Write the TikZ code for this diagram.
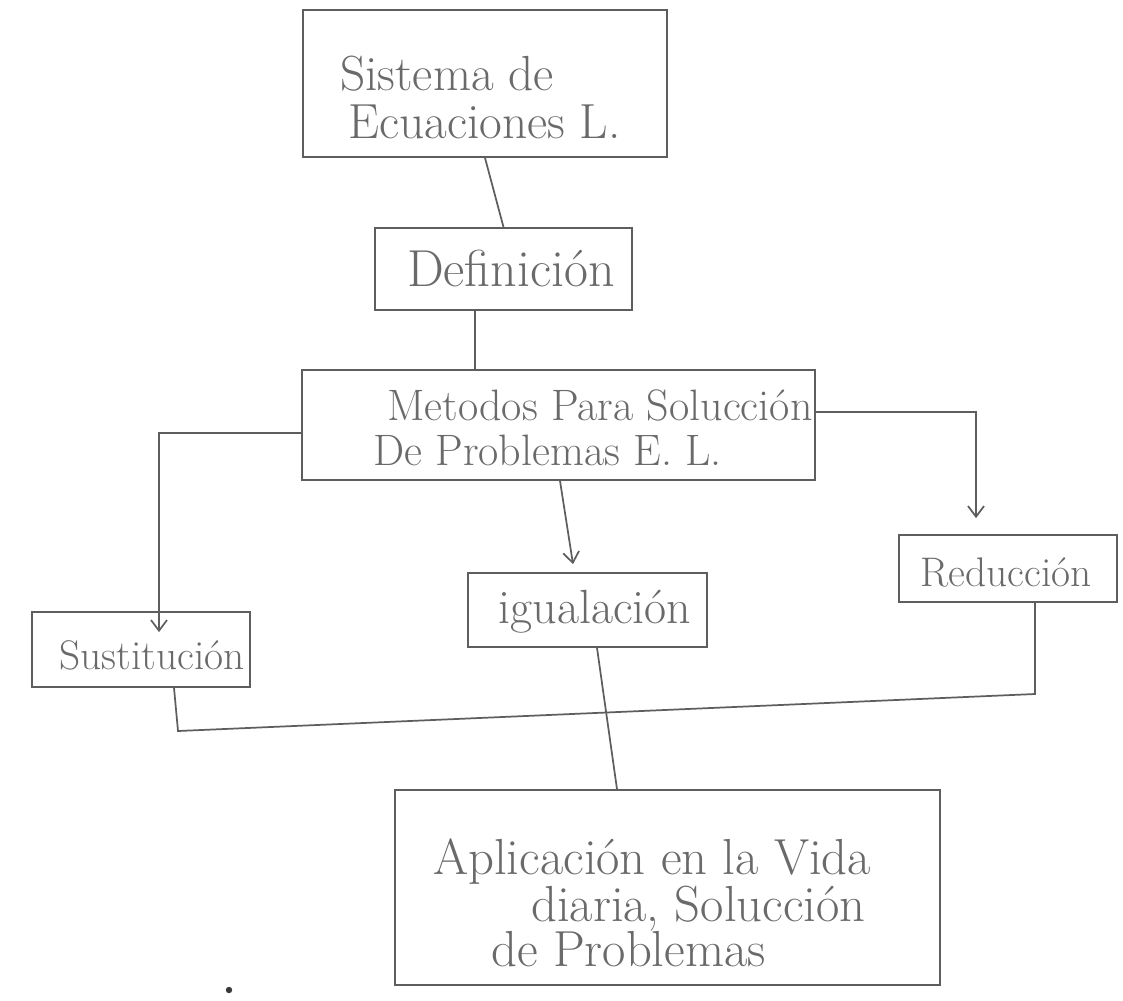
\documentclass[tikz,border=0pt]{standalone}
\usetikzlibrary{arrows.meta,calc}
\definecolor{ink}{HTML}{5E5E5E}
\definecolor{inkt}{HTML}{6A6A6A}
\begin{document}
\begin{tikzpicture}[x=0.75pt,y=-0.75pt,
  box/.style={draw=ink,line width=1.3pt,inner sep=0pt,rectangle},
  lbl/.style={text=inkt,inner sep=0pt,align=center},
  conn/.style={draw=ink,line width=1.3pt},
  arr/.style={conn,-{Straight Barb[length=8pt,width=12pt]}}]
\useasboundingbox (0,0) rectangle (1123,1000);
\fill[white] (0,0) rectangle (1123,1000);

% boxes
\node[box,minimum width=273pt,minimum height=110.25pt] (sis) at (485,83.5) {};
\node[box,minimum width=192.75pt,minimum height=61.5pt] (def) at (503.5,269) {};
\node[box,minimum width=384.75pt,minimum height=82.5pt] (met) at (558.5,425) {};
\node[box,minimum width=163.5pt,minimum height=56.25pt] (sus) at (141,649.5) {};
\node[box,minimum width=179.25pt,minimum height=55.5pt] (igu) at (587.5,610) {};
\node[box,minimum width=163.5pt,minimum height=50.25pt] (red) at (1008,568.5) {};
\node[box,minimum width=408.75pt,minimum height=146.25pt] (apl) at (667.5,887.5) {};

% texts
\node[lbl,align=left,anchor=west,font=\fontsize{37}{36}\selectfont] (tsis) at (340,97) {Sistema de\\\hspace*{6pt}Ecuaciones L.};
\node[lbl,font=\fontsize{39}{40}\selectfont] (tdef) at (511,268) {Definición};
\node[lbl,align=left,anchor=west,font=\fontsize{33}{34}\selectfont] (tmet) at (373,428) {\hspace*{10.5pt}Metodos Para Solucción\\De Problemas E.\ L.};
\node[lbl,font=\fontsize{31}{32}\selectfont] (tsus) at (152,655) {Sustitución};
\node[lbl,font=\fontsize{36}{37}\selectfont] (tigu) at (595,612) {igualación};
\node[lbl,font=\fontsize{31}{32}\selectfont] (tred) at (1006,572) {Reducción};
\node[lbl,align=left,anchor=west,font=\fontsize{38}{33.75}\selectfont] (tapl) at (433,903) {Aplicación en la Vida\\\hspace*{73.5pt}diaria, Solucción\\\hspace*{43.5pt}de Problemas};

% helper coordinates
\coordinate (c1) at (475,0);
\coordinate (cL) at (159,433);
\coordinate (cM1) at (560,0);
\coordinate (cM2) at (573,0);
\coordinate (cR) at (976,412);
\coordinate (cS) at (174,0);
\coordinate (bL) at (178,731);
\coordinate (bR) at (1035,694);
\coordinate (cRd) at (1035,0);
\coordinate (cI1) at (597,0);
\coordinate (cI2) at (617,0);

% connectors
\draw[conn] (sis.south) -- (def.north);
\draw[conn] (def.south -| c1) -- (met.north -| c1);
\draw[arr] (met.west |- cL) -- (cL) -- ($(sus.north -| cL)+(0,21)$);
\draw[arr] (met.south -| cM1) -- ($(igu.north -| cM2)+(0,-8)$);
\draw[arr] (met.east |- cR) -- (cR) -- ($(red.north -| cR)+(0,-16)$);
\draw[conn] (sus.south -| cS) -- (bL) -- (bR) -- (red.south -| cRd);
\draw[conn] (igu.south -| cI1) -- (apl.north -| cI2);

% stray pen dot
\fill[ink!60!black] (229,990) circle (2.4pt);
\end{tikzpicture}
\end{document}
